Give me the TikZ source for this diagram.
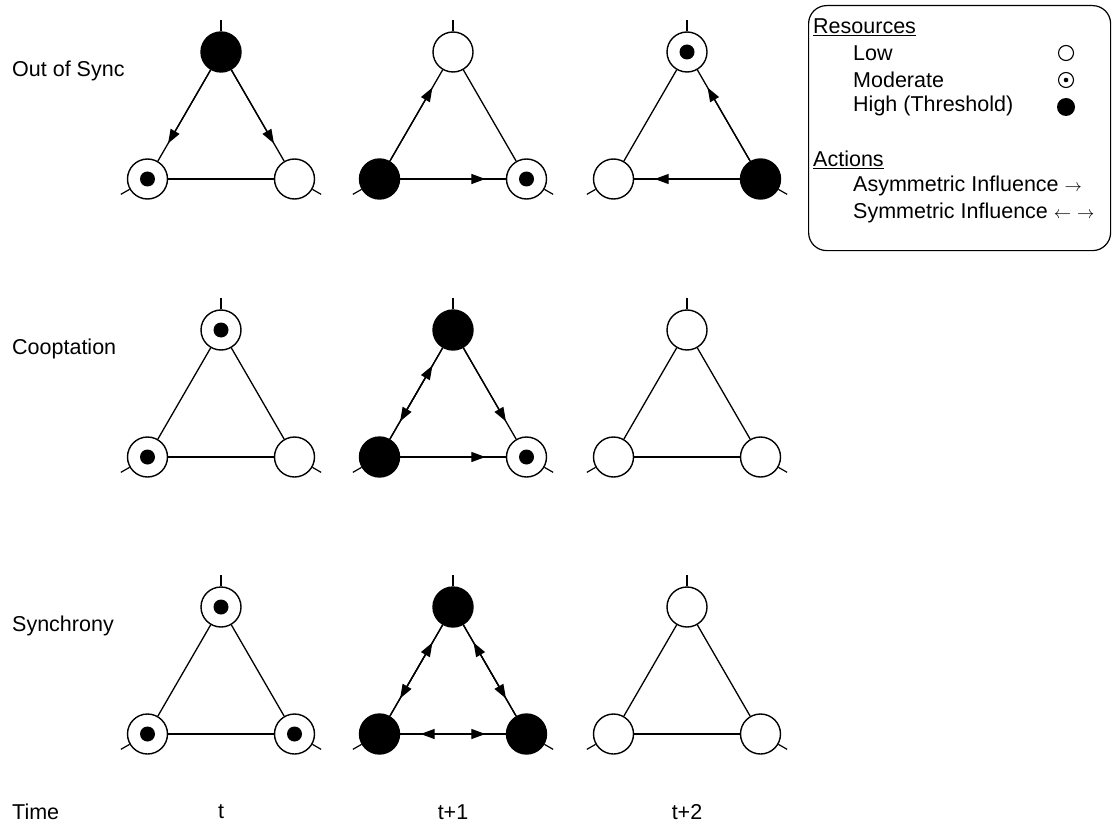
\documentclass[tikz,border=0pt]{standalone}
\usepackage{fontspec}
\setmainfont{Liberation Sans}
\usetikzlibrary{arrows.meta,calc}
\tikzset{
  st/.style={circle, draw, line width=1.4pt, minimum size=40pt, inner sep=0pt, fill=white},
  lowres/.style={st},
  modres/.style={st, label={[circle, fill=black, minimum size=15pt, inner sep=0pt]center:{}}},
  highres/.style={st, fill=black},
  edge/.style={line width=1.3pt},
  arr/.style={line width=1.3pt, -{Triangle[length=14pt,width=10pt]}},
  tick/.style={line width=1.2pt},
  lbl/.style={anchor=west, inner sep=0pt, font=\fontsize{21.5}{25}\selectfont},
  leg/.style={anchor=west, inner sep=0pt, font=\fontsize{21.5}{25}\selectfont}
}
% #1 x, #2 y of top node, #3 prefix, #4 #5 #6 states of top, left, right
\newcommand\mytri[6]{%
  \node[#4] (#3t) at (#1,#2) {};
  \node[#5] (#3l) at ($(#1,#2)+(-73.5,127)$) {};
  \node[#6] (#3r) at ($(#1,#2)+(73.5,127)$) {};
  \draw[tick] (#3t.north) -- ++(0,-11);
  \draw[tick] (#3l.210) -- ++(-8.7,5);
  \draw[tick] (#3r.330) -- ++(8.7,5);
}
\newcommand\plainedge[2]{\draw[edge] (#1) -- (#2);}
\newcommand\asy[2]{\draw[edge] (#1) -- (#2); \draw[arr] (#1) -- ($(#1)!0.72!(#2)$);}
\newcommand\sym[2]{\draw[edge] (#1) -- (#2); \draw[arr] (#1) -- ($(#1)!0.72!(#2)$); \draw[arr] (#2) -- ($(#2)!0.72!(#1)$);}
\begin{document}
\begin{tikzpicture}[x=1pt,y=-1pt]
\useasboundingbox (0,0) rectangle (1113,837);
% triangles
\mytri{221}{52}{a}{highres}{modres}{lowres}
\mytri{453}{52}{b}{lowres}{highres}{modres}
\mytri{687}{52}{c}{modres}{lowres}{highres}
\mytri{221}{330}{d}{modres}{modres}{lowres}
\mytri{453}{330}{e}{highres}{highres}{modres}
\mytri{687}{330}{f}{lowres}{lowres}{lowres}
\mytri{221}{607}{g}{modres}{modres}{modres}
\mytri{453}{607}{h}{highres}{highres}{highres}
\mytri{687}{607}{i}{lowres}{lowres}{lowres}
% row 1
\asy{at}{al} \asy{at}{ar} \plainedge{al}{ar}
\asy{bl}{bt} \asy{bl}{br} \plainedge{bt}{br}
\asy{cr}{ct} \asy{cr}{cl} \plainedge{ct}{cl}
% row 2
\plainedge{dt}{dl} \plainedge{dt}{dr} \plainedge{dl}{dr}
\sym{et}{el} \asy{et}{er} \asy{el}{er}
\plainedge{ft}{fl} \plainedge{ft}{fr} \plainedge{fl}{fr}
% row 3
\plainedge{gt}{gl} \plainedge{gt}{gr} \plainedge{gl}{gr}
\sym{ht}{hl} \sym{ht}{hr} \sym{hl}{hr}
\plainedge{it}{il} \plainedge{it}{ir} \plainedge{il}{ir}
% labels
\node[lbl] (r1) at (12,71) {Out of Sync};
\node[lbl] (r2) at (12,349) {Cooptation};
\node[lbl] (r3) at (12,626) {Synchrony};
\node[lbl] (tm) at (12,812) {Time};
\node[lbl, anchor=center] (t0) at (221,812) {t};
\node[lbl, anchor=center] (t1) at (453,812) {t+1};
\node[lbl, anchor=center] (t2) at (687,812) {t+2};
% legend
\node[draw, line width=1.2pt, rounded corners=18pt, minimum width=302pt, minimum height=245pt, anchor=north west] (legend) at (808,5) {};
\node[leg] (lres) at (813,27) {\underline{Resources}};
\node[leg] (llow) at (853,53) {Low};
\node[leg] (lmod) at (853,80) {Moderate};
\node[leg] (lhigh) at (853,106) {High (Threshold)};
\node[leg] (lact) at (813,160) {\underline{Actions}};
\node[leg] (lasy) at (853,186) {Asymmetric Influence {\fontsize{19}{19}\selectfont$\rightarrow$}};
\node[leg] (lsym) at (853,213) {Symmetric Influence {\fontsize{19}{19}\selectfont$\leftarrow$\hspace{6pt}$\rightarrow$}};
\node[circle, draw, line width=1.1pt, minimum size=15pt, inner sep=0pt] (slow) at (1066,53) {};
\node[circle, draw, line width=1.1pt, minimum size=15pt, inner sep=0pt,
  path picture={\fill (path picture bounding box.center) circle (2.3pt);}] (smod) at (1066,80) {};
\node[circle, fill=black, minimum size=18pt, inner sep=0pt] (shigh) at (1066,107) {};
\end{tikzpicture}
\end{document}
